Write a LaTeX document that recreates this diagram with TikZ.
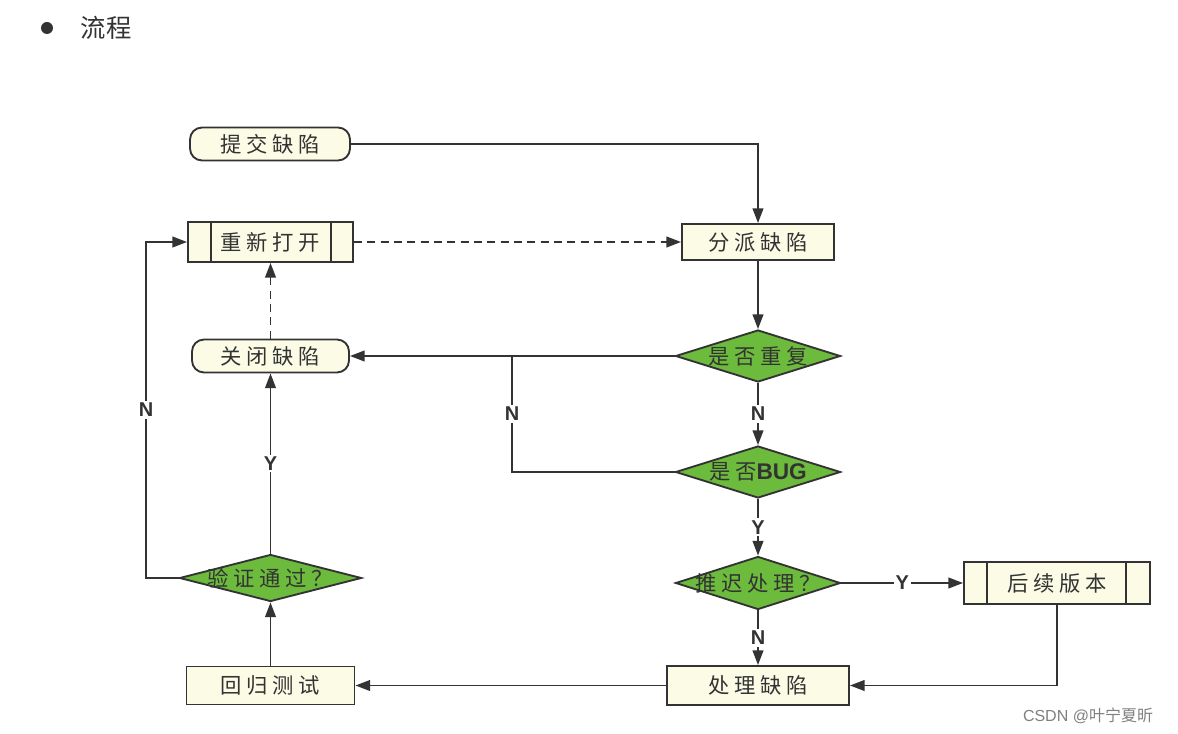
\documentclass[tikz,border=0pt]{standalone}
\usepackage{fontspec}
\setmainfont{Liberation Sans}
\newfontfamily\cjk{Noto Sans CJK SC}
\newfontfamily\cjkl[LetterSpace=22]{Noto Sans CJK SC}
\usetikzlibrary{shapes.geometric,arrows.meta,calc}
\definecolor{cream}{HTML}{FBFBE6}
\definecolor{dgreen}{HTML}{6CBB3C}
\definecolor{edge}{HTML}{333333}
\begin{document}
\begin{tikzpicture}[x=0.75pt,y=-0.75pt,
  box/.style={draw=edge, line width=1.4pt, fill=cream, rectangle, inner sep=0pt,
    font=\cjkl\fontsize{16}{16}\selectfont, text=edge},
  term/.style={box, rounded corners=9pt},
  dia/.style={draw=edge, line width=1.4pt, fill=dgreen, diamond, inner sep=0pt},
  dtext/.style={font=\cjkl\fontsize{16}{16}\selectfont, text=edge},
  conn/.style={draw=edge, line width=1.4pt},
  arr/.style={conn, -{Triangle[length=11pt,width=8pt]}},
  dsh/.style={dash pattern=on 6pt off 4pt},
  lab/.style={fill=white, inner sep=1.5pt, font=\bfseries\fontsize{15}{15}\selectfont, text=edge}
]
\useasboundingbox[fill=white] (0,0) rectangle (1178,734);

% title
\node[circle, fill=edge, minimum size=9pt, inner sep=0pt] (bul) at (47,28) {};
\node[font=\cjk\fontsize{19}{19}\selectfont, text=edge] (title) at (106,28) {流程};

% nodes
\node[term, minimum width=120pt, minimum height=24.75pt] (submit) at (270,144) {提交缺陷};
\node[box, minimum width=123.75pt, minimum height=30pt] (reopen) at (270.5,242) {重新打开};
\node[box, minimum width=114pt, minimum height=27pt] (assign) at (758,242) {分派缺陷};
\node[dia, minimum width=123.75pt, minimum height=39pt, label={[dtext]center:是否重复}] (dup) at (758,356) {};
\node[dia, minimum width=123.75pt, minimum height=39pt, label={[dtext]center:{是否{\rmfamily\bfseries\fontsize{17}{17}\selectfont BUG}}}] (bug) at (758,472) {};
\node[dia, minimum width=123.75pt, minimum height=39.75pt, label={[dtext]center:推迟处理？}] (delay) at (758,583) {};
\node[box, minimum width=139.5pt, minimum height=31.5pt] (later) at (1057,583) {后续版本};
\node[box, minimum width=136.5pt, minimum height=29.25pt] (fix) at (758,685.5) {处理缺陷};
\node[box, minimum width=126pt, minimum height=28.5pt] (reg) at (270.5,685.5) {回归测试};
\node[dia, minimum width=136.5pt, minimum height=35.25pt, label={[dtext]center:验证通过？}] (verify) at (270.5,578) {};
\node[term, minimum width=117.75pt, minimum height=24.75pt] (close) at (270.5,356) {关闭缺陷};

% inner bars of the double-sided boxes
\foreach \n/\a/\b in {reopen/24/23, later/24/25} {
  \draw[conn] ($(\n.north west)+(\a,0)$) -- ($(\n.south west)+(\a,0)$);
  \draw[conn] ($(\n.north east)+(-\b,0)$) -- ($(\n.south east)+(-\b,0)$);
}

\coordinate (junc) at (512,356);
\coordinate (vl) at (146,578);

% connectors
\draw[arr] (submit.east) -| (assign.north);
\draw[arr, dsh] (reopen.east) -- (assign.west);
\draw[arr] (assign.south) -- (dup.north);
\draw[arr] (dup.west) -- (close.east);
\draw[arr] (dup.south) -- node[lab]{N} (bug.north);
\draw[conn] (bug.west) -| node[lab, pos=0.75]{N} (junc);
\draw[arr] (bug.south) -- node[lab]{Y} (delay.north);
\draw[arr] (delay.east) -- node[lab]{Y} (later.west);
\draw[arr] (delay.south) -- node[lab]{N} (fix.north);
\draw[arr] (later.south) |- (fix.east);
\draw[arr] (fix.west) -- (reg.east);
\draw[arr] (reg.north) -- (verify.south);
\draw[arr] (verify.north) -- node[lab]{Y} (close.south);
\draw[arr] (verify.west) -- (vl) |- node[lab, pos=0.25]{N} (reopen.west);
\draw[arr, dsh] (close.north) -- (reopen.south);

% watermark
\node[font=\fontsize{12}{12}\selectfont, text=gray] (wm) at (1088,716) {CSDN @{\cjk 叶宁夏昕}};
\end{tikzpicture}
\end{document}
